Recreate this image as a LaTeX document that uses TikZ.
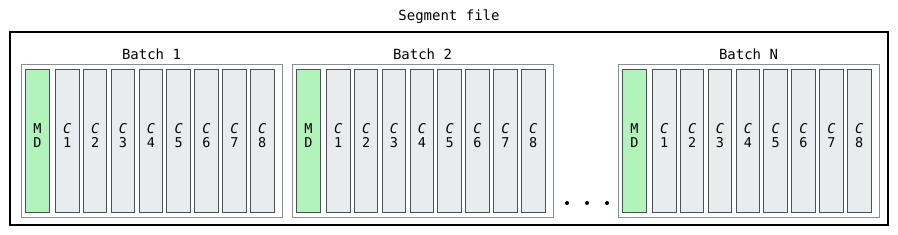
\documentclass[tikz,border=0pt]{standalone}
\usepackage{fontspec}
\setmainfont{DejaVu Sans Mono}
\usetikzlibrary{positioning}
\definecolor{mdgreen}{HTML}{B2F2BB}
\definecolor{cellgray}{HTML}{E9ECEF}
\definecolor{celledge}{HTML}{495057}
\definecolor{batchedge}{HTML}{868E96}
\tikzset{
  txt/.style={font=\fontsize{14}{15}\selectfont},
  segbox/.style={draw=black, line width=1.6pt, minimum width=878pt, minimum height=193pt},
  batchbox/.style={draw=batchedge, line width=0.8pt, minimum width=261pt, minimum height=153pt},
  cell/.style={draw=celledge, line width=0.9pt, minimum height=143pt, inner sep=0pt},
  celltxt/.style={align=center, yshift=5pt, inner sep=0pt, font=\fontsize{13.5}{14.5}\selectfont},
  mdcell/.style={cell, fill=mdgreen, minimum width=24pt},
  ccell/.style={cell, fill=cellgray, minimum width=23.5pt},
  dot/.style={circle, fill=black, inner sep=0pt, minimum size=4pt}
}
\begin{document}
\begin{tikzpicture}[x=1pt, y=-1pt]
  \useasboundingbox (0,0) rectangle (898,235);
  % outer segment file
  \node[segbox] (seg) at (449,128.5) {};
  \node[txt] (segtitle) at (449,17) {Segment file};
  % batches: metadata cell and eight chunk cells each
  \foreach \n/\L/\t in {1/21/1, 2/292/2, 3/618/N} {
    \node[batchbox] (b\n) at (\L+130.5,140.5) {};
    \node[txt, above=0.5pt of b\n] (bl\n) {Batch \t};
    \node[mdcell, label={[celltxt]center:{M\\D}}] (md\n) at (\L+16.5,140.5) {};
    \foreach \k in {1,...,8}
      \node[ccell, label={[celltxt]center:{\textit{C}\\\k}}] (c\n-\k)
        at ({\L+46.25+(\k-1)*27.86},140.5) {};
  }
  % ellipsis between batch 2 and batch N
  \foreach \i/\x in {1/567, 2/587, 3/607}
    \node[dot] (dot\i) at (\x,203) {};
\end{tikzpicture}
\end{document}
